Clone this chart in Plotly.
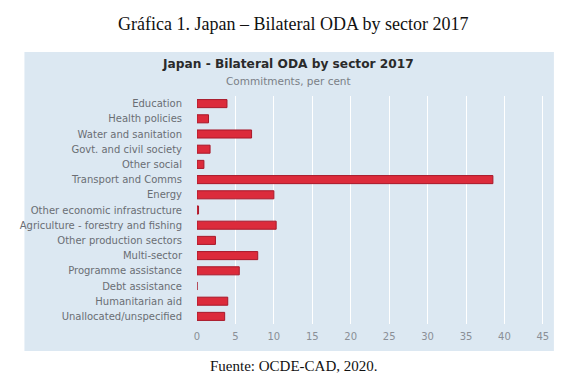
import plotly.graph_objects as go

categories = [
    "Education", "Health policies", "Water and sanitation", "Govt. and civil society",
    "Other social", "Transport and Comms", "Energy", "Other economic infrastructure",
    "Agriculture - forestry and fishing", "Other production sectors", "Multi-sector",
    "Programme assistance", "Debt assistance", "Humanitarian aid", "Unallocated/unspecified",
]
values = [3.9, 1.5, 7.1, 1.7, 0.9, 38.5, 10.0, 0.2, 10.3, 2.4, 7.9, 5.5, 0.0, 4.0, 3.6]
tick_vals = [0, 5, 10, 15, 20, 25, 30, 35, 40, 45]

W, H = 567, 375
ML, MR, MT, MB = 182, 26, 88, 59
PW, PH = W - ML - MR, H - MT - MB


def px(x):
    return (x - ML) / PW


def py(y):
    return (H - MB - y) / PH


fig = go.Figure(go.Bar(
    x=values, y=categories, orientation="h",
    marker=dict(color="#dc2b3b", line=dict(color="#a8182a", width=1)),
))

fig.update_layout(
    width=W, height=H,
    margin=dict(l=ML, r=MR, t=MT, b=MB, pad=0),
    paper_bgcolor="white", plot_bgcolor="rgba(0,0,0,0)",
    bargap=0.47, showlegend=False,
    font=dict(family="DejaVu Sans, sans-serif", color="#666666"),
    xaxis=dict(range=[0, 45.8], tickvals=tick_vals, showgrid=True, gridcolor="white",
               gridwidth=1, zeroline=False, showline=False, ticks="",
               tickfont=dict(size=10, color="#8a8f96"), ticklabelstandoff=5),
    yaxis=dict(categoryorder="array", categoryarray=categories[::-1],
               range=[-0.5, len(categories) - 0.5], showgrid=False, zeroline=False,
               showline=False, ticks="", tickfont=dict(size=10, color="#6a6e74"),
               ticklabelstandoff=14),
    shapes=[dict(type="rect", xref="paper", yref="paper", layer="below",
                 x0=px(6), x1=px(546), y0=py(343), y1=py(44),
                 fillcolor="#dce8f2", line=dict(width=0))],
    annotations=[
        dict(text="Gráfica 1. Japan – Bilateral ODA by sector 2017", xref="paper", yref="paper",
             x=px(280), y=py(16), xanchor="center", yanchor="middle", showarrow=False,
             font=dict(family="Liberation Serif, serif", size=18, color="#111111")),
        dict(text="<b>Japan - Bilateral ODA by sector 2017</b>", xref="paper", yref="paper",
             x=px(275), y=py(56), xanchor="center", yanchor="middle", showarrow=False,
             font=dict(size=12.2, color="#2a2a2a")),
        dict(text="Commitments, per cent", xref="paper", yref="paper",
             x=px(275), y=py(73), xanchor="center", yanchor="middle", showarrow=False,
             font=dict(size=10.5, color="#7a7f86")),
        dict(text="Fuente: OCDE-CAD, 2020.", xref="paper", yref="paper",
             x=px(193), y=py(358), xanchor="left", yanchor="middle", showarrow=False,
             font=dict(family="Liberation Serif, serif", size=15, color="#111111")),
    ],
)

fig.write_html("out.html")
